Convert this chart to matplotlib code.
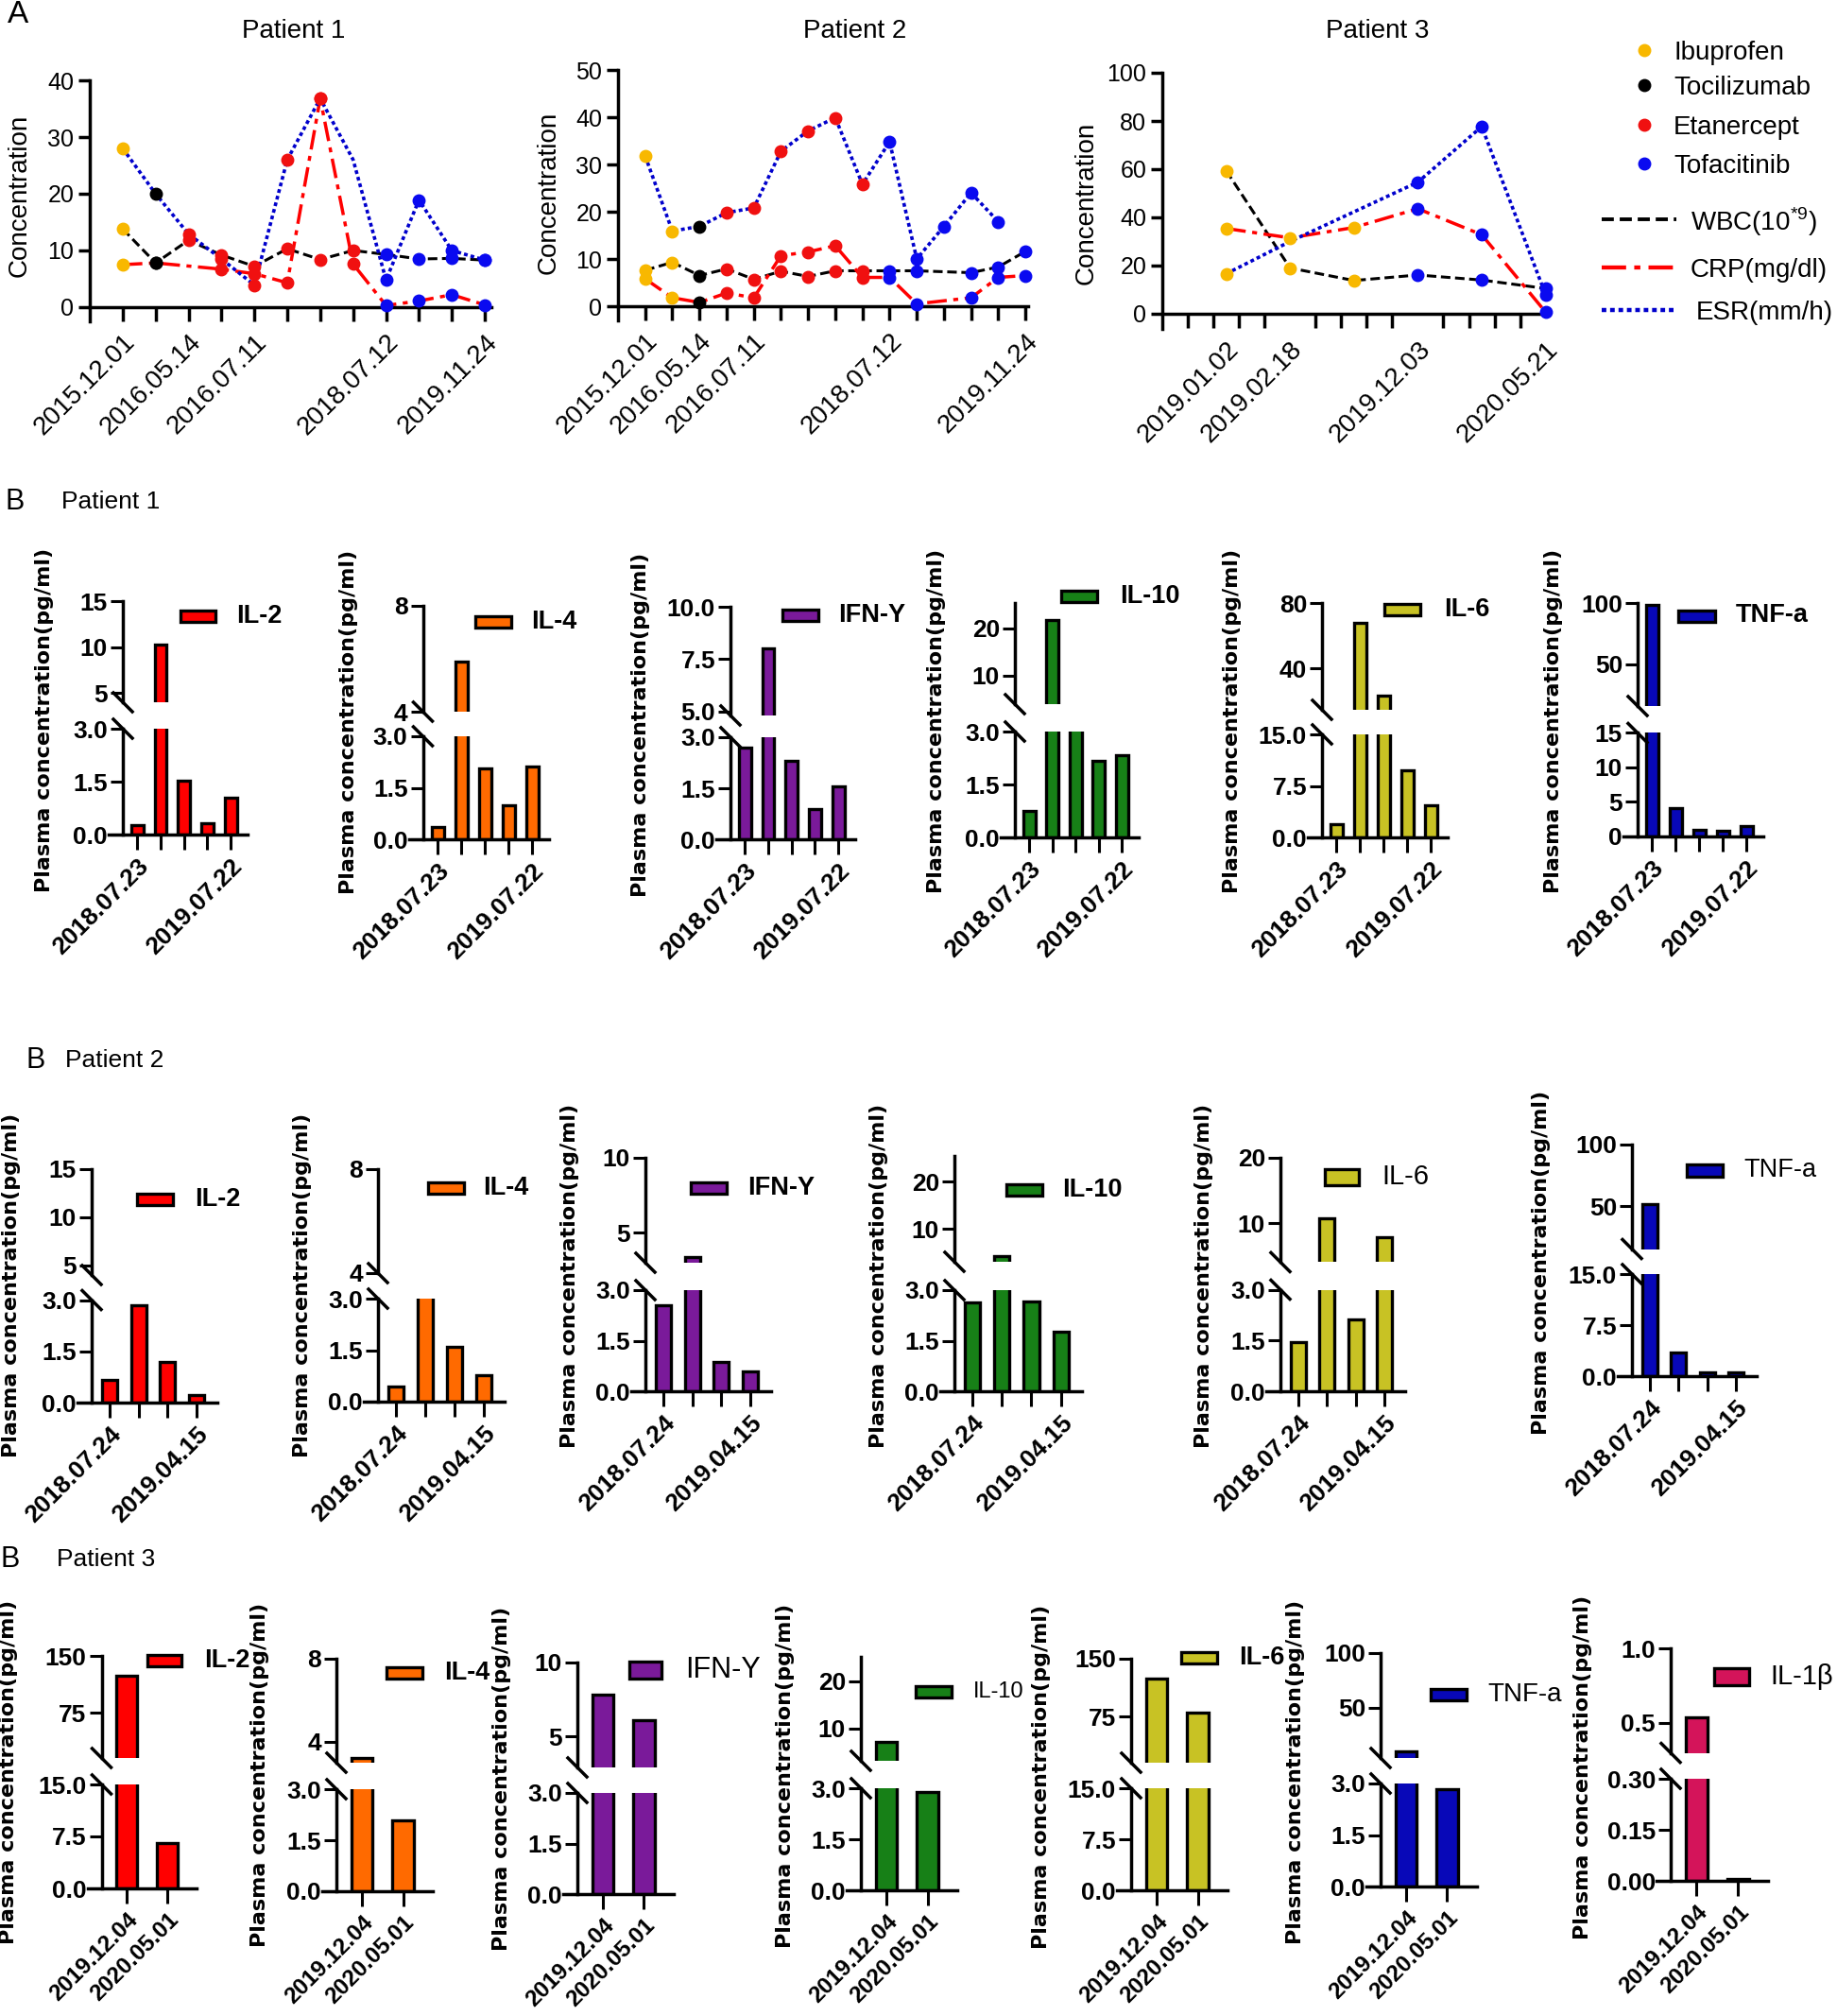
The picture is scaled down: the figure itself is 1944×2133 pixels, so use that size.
import matplotlib
matplotlib.use('Agg')
import matplotlib.pyplot as plt
from matplotlib.lines import Line2D
from matplotlib.patches import Rectangle

plt.rcParams['font.family'] = ['Liberation Sans', 'DejaVu Sans']
plt.rcParams['mathtext.fontset'] = 'custom'
plt.rcParams['mathtext.rm'] = 'Liberation Sans'

# ---------------------------------------------------------------- data (A)
p1_dates = ['2015.12.01', '', '2016.05.14', '', '2016.07.11', '', '', '', '2018.07.12', '', '', '2019.11.24']
p1_wbc = [13.8, 7.8, 11.8, 9.2, 7.2, 10.3, 8.4, 10.0, 9.3, 8.5, 8.6, 8.3]
p1_crp = [7.5, 7.8, None, 6.7, 5.9, 4.3, 36.8, 7.6, 0.3, 1.1, 2.2, 0.4]
p1_esr = [28.0, 20.0, 12.9, 8.5, 3.9, 26.0, 36.8, 26.0, 4.8, 18.9, 10.0, 8.3]
p1_drug = ['Ibuprofen', 'Tocilizumab'] + ['Etanercept'] * 6 + ['Tofacitinib'] * 4
p1_hidden = [('esr', 7)]

p2_dates = ['2015.12.01', '', '2016.05.14', '', '2016.07.11', '', '', '', '', '2018.07.12', '', '', '', '', '2019.11.24']
p2_wbc = [7.6, 9.3, 6.5, 7.9, 5.7, 7.4, 6.3, 7.5, 7.5, 7.5, 7.5, None, 7.1, 8.3, 11.6]
p2_crp = [5.8, 1.8, 0.8, 2.8, 1.8, 10.7, 11.5, 12.8, 6.1, 6.1, 0.5, None, 1.8, 6.1, 6.5]
p2_esr = [31.8, 15.9, 16.9, 19.8, 20.8, 32.8, 37.1, 39.9, 25.8, 34.8, 10.0, 16.9, 24.0, 17.9, None]
p2_drug = ['Ibuprofen', 'Ibuprofen', 'Tocilizumab'] + ['Etanercept'] * 6 + ['Tofacitinib'] * 6
p2_hidden = []

p3_pos = [2.5, 5, 7.5, 10, 12.5, 15]
p3_dates = ['2019.01.02', '2019.02.18', '', '2019.12.03', '', '2020.05.21']
p3_wbc = [59.4, 19.0, 13.8, 16.1, 14.0, 10.5]
p3_crp = [35.4, 31.5, 35.8, 43.6, 32.8, 0.7]
p3_esr = [16.6, 30.0, None, 54.6, 77.7, 7.9]
p3_drug = ['Ibuprofen'] * 3 + ['Tofacitinib'] * 3
p3_hidden = [('esr', 1)]

DRUGS = ['Ibuprofen', 'Tocilizumab', 'Etanercept', 'Tofacitinib']
DRUG_COLORS = {'Ibuprofen': '#F8B800', 'Tocilizumab': '#000000',
               'Etanercept': '#F01010', 'Tofacitinib': '#0A0AF0'}
LINE_NAMES = ['WBC(10$^{*9}$)', 'CRP(mg/dl)', 'ESR(mm/h)']

# ---------------------------------------------------------------- data (B)
p1_dates_b = ['2018.07.23', '', '', '', '2019.07.22']
p1_il2 = [0.26, 10.25, 1.52, 0.33, 1.04]
p1_il4 = [0.37, 5.9, 2.07, 0.98, 2.12]
p1_ifn = [2.7, 8.0, 2.31, 0.88, 1.55]
p1_il10 = [0.75, 21.8, 3.5, 2.17, 2.33]
p1_il6 = [1.9, 67.9, 23.2, 9.8, 4.7]
p1_tnf = [98.4, 4.1, 0.95, 0.8, 1.5]

p2_dates_b = ['2018.07.24', '', '', '2019.04.15']
p2_il2 = [0.67, 2.86, 1.19, 0.22]
p2_il4 = [0.44, 3.5, 1.61, 0.78]
p2_ifn = [2.56, 3.4, 0.87, 0.58]
p2_il10 = [2.63, 4.3, 2.65, 1.77]
p2_il6 = [1.46, 10.75, 2.13, 7.8]
p2_tnf = [51.3, 3.5, 0.5, 0.6]

p3_dates_b = ['2019.12.04', '2020.05.01']
p3_il2 = [124.0, 6.6]
p3_il4 = [3.25, 2.09]
p3_ifn = [7.85, 6.1]
p3_il10 = [7.3, 2.9]
p3_il6 = [124.2, 80.3]
p3_tnf = [9.9, 2.84]
p3_il1b = [0.54, 0.006]

CYT_COLORS = {'IL-2': '#FF0000', 'IL-4': '#FF6A00', 'IFN-Y': '#7A1A9A', 'IL-10': '#178017',
              'IL-6': '#C8C224', 'TNF-a': '#0808B8', 'IL-1β': '#D4145A'}

# ---------------------------------------------------------------- figure
W, H = 1944, 2133
fig = plt.figure(figsize=(W / 100, H / 100), dpi=100)


def fx(x):
    return x / W


def fy(y):
    return 1 - y / H


def px_axes(left, top, right, bottom):
    return fig.add_axes([fx(left), fy(bottom), (right - left) / W, (bottom - top) / H])


# ---------------------------------------------------------------- panel A
A_LAYOUT = [
    dict(left=95, right=520, top=85, zero=325, ext=15, xlim=(-1, 11.2), ymax=40, ystep=10,
         title='Patient 1', tx=311, lx=21, ly=207),
    dict(left=654, right=1088, top=74, zero=324, ext=15, xlim=(-1, 14.1), ymax=50, ystep=10,
         title='Patient 2', tx=905, lx=581, ly=204),
    dict(left=1230, right=1637, top=77, zero=332, ext=16, xlim=(0, 15.05), ymax=100, ystep=20,
         title='Patient 3', tx=1458, lx=1150, ly=215),
]

LINE_STYLES = {'wbc': ('black', (3.3, 1.6), 2.2),
               'crp': ('#FF0000', (6, 2, 1.5, 2), 2.5),
               'esr': ('#0000CC', (1.1, 0.9), 2.6)}


def line_panel(L, xs, dates, minor, wbc, crp, esr, drugs, hidden):
    ax = px_axes(L['left'], L['top'], L['right'], L['zero'] + L['ext'])
    ax.set_facecolor('none')
    ymin = -L['ext'] * L['ymax'] / (L['zero'] - L['top'])
    ax.set_ylim(ymin, L['ymax'])
    ax.set_xlim(*L['xlim'])
    for s in ('top', 'right'):
        ax.spines[s].set_visible(False)
    ax.spines['bottom'].set_position(('data', 0))
    for s in ('left', 'bottom'):
        ax.spines[s].set_linewidth(2.5)
    yt = list(range(0, L['ymax'] + 1, L['ystep']))
    ax.set_yticks(yt)
    ax.set_yticklabels([str(v) for v in yt], fontsize=18)
    labeled = [(x, d) for x, d in zip(xs, dates) if d]
    if minor is None:
        ax.set_xticks(xs)
        ax.set_xticklabels(dates, rotation=45, ha='right', va='top', rotation_mode='anchor', fontsize=20)
        ax.tick_params(axis='x', direction='out', length=11, width=2.5, pad=6)
    else:
        ax.set_xticks([p[0] for p in labeled])
        ax.set_xticklabels([p[1] for p in labeled], rotation=45, ha='right', va='top',
                           rotation_mode='anchor', fontsize=20)
        ax.set_xticks(minor, minor=True)
        ax.tick_params(axis='x', which='major', length=0, pad=18)
        ax.tick_params(axis='x', which='minor', direction='out', length=11, width=2.5)
    ax.tick_params(axis='y', direction='out', length=9, width=2.5, pad=3)
    series = {'wbc': wbc, 'crp': crp, 'esr': esr}
    for key, vals in series.items():
        col, dash, lw = LINE_STYLES[key]
        pts = [(x, v) for x, v in zip(xs, vals) if v is not None]
        ax.plot([p[0] for p in pts], [p[1] for p in pts], color=col, lw=lw, dashes=dash,
                zorder=2, clip_on=False)
    for key, vals in series.items():
        for i, (x, v) in enumerate(zip(xs, vals)):
            if v is None or (key, i) in hidden:
                continue
            ax.plot(x, v, 'o', ms=9, color=DRUG_COLORS[drugs[i]], zorder=3, clip_on=False)
    fig.text(fx(L['tx']), fy(33), L['title'], ha='center', va='center', fontsize=20)
    fig.text(fx(L['lx']), fy(L['ly']), 'Concentration', rotation=90, ha='center', va='center', fontsize=20)


line_panel(A_LAYOUT[0], list(range(len(p1_wbc))), p1_dates, None, p1_wbc, p1_crp, p1_esr, p1_drug, p1_hidden)
line_panel(A_LAYOUT[1], list(range(len(p2_wbc))), p2_dates, None, p2_wbc, p2_crp, p2_esr, p2_drug, p2_hidden)
line_panel(A_LAYOUT[2], p3_pos, p3_dates, list(range(1, 16)), p3_wbc, p3_crp, p3_esr, p3_drug, p3_hidden)

fig.text(fx(19), fy(16), 'A', ha='center', va='center', fontsize=24)

# legend A
for name, y in zip(DRUGS, [53, 90, 132, 173]):
    fig.add_artist(Line2D([fx(1740)], [fy(y)], marker='o', ms=9, color=DRUG_COLORS[name],
                          transform=fig.transFigure))
    fig.text(fx(1771), fy(y + 3), name, ha='left', va='center', fontsize=20)
for key, name, y, tx in zip(['wbc', 'crp', 'esr'], LINE_NAMES, [232, 283, 328], [1789, 1789, 1795]):
    col, dash, lw = LINE_STYLES[key]
    fig.add_artist(Line2D([fx(1695), fx(1774)], [fy(y), fy(y)], color=col, lw=lw + 0.6, dashes=dash,
                          transform=fig.transFigure))
    fig.text(fx(tx), fy(y + 3), name, ha='left', va='center', fontsize=20)


# ---------------------------------------------------------------- panel B
def lay(l, r, ut, ub, ulim, utk, utl, lt, lb, llim, ltk, ltl, leg, yl):
    return dict(l=l, r=r, ut=ut, ub=ub, ulim=ulim, utk=utk, utl=utl, lt=lt, lb=lb,
                llim=llim, ltk=ltk, ltl=ltl, leg=leg, yl=yl)


T3 = ([0, 1.5, 3], ['0.0', '1.5', '3.0'])
T15 = ([0, 7.5, 15], ['0.0', '7.5', '15.0'])

# legend tuple: (patch x0, patch x1, centre y, patch height, text x, bold, font size)
ROW1 = [
    lay(130, 262, 636, 743, (4, 15), [5, 10, 15], ['5', '10', '15'], 771, 883, (0, 3), *T3,
        (191, 228, 652, 12, 250, True, 19.5), (47, 762)),
    lay(447.5, 581, 641, 753, (4, 8), [4, 8], ['4', '8'], 779, 888, (0, 3), *T3,
        (503, 541, 658, 12, 562, True, 19.5), (369, 764)),
    lay(773, 905, 642, 757, (4.8, 10), [5, 7.5, 10], ['5.0', '7.5', '10.0'], 780, 888, (0, 3), *T3,
        (828, 866, 651, 12, 887, True, 19.5), (678, 767)),
    lay(1074, 1205, 638, 745, (4, 25.4), [10, 20], ['10', '20'], 774, 886, (0, 3), *T3,
        (1123, 1161, 631, 12, 1185, True, 19.5), (991, 763)),
    lay(1399, 1532, 638, 751, (14.5, 80), [40, 80], ['40', '80'], 777, 886, (0, 15), *T15,
        (1465, 1503, 645, 12, 1528, True, 19.5), (1304, 763)),
    lay(1733, 1866, 638, 747, (16, 100), [50, 100], ['50', '100'], 775.5, 884.6, (0, 15),
        [0, 5, 10, 15], ['0', '5', '10', '15'],
        (1776, 1815, 651.5, 12, 1837, True, 19.5), (1644, 763)),
]
ROW2 = [
    lay(97, 230, 1237, 1349, (4, 15), [5, 10, 15], ['5', '10', '15'], 1375.5, 1484, (0, 3), *T3,
        (145, 182.5, 1269, 12, 206, True, 19.5), (12.5, 1360)),
    lay(400, 534, 1237, 1347, (4, 8), [4, 8], ['4', '8'], 1374, 1483, (0, 3), *T3,
        (453, 491, 1257, 12, 511, True, 19.5), (320, 1360)),
    lay(683, 816, 1225, 1336, (3, 10), [5, 10], ['5', '10'], 1365, 1472, (0, 3), *T3,
        (731, 769, 1257, 12, 791, True, 19.5), (603, 1350)),
    lay(1010, 1145, 1223, 1335, (3, 25.4), [10, 20], ['10', '20'], 1365, 1472, (0, 3), *T3,
        (1065, 1103, 1259, 12, 1124, True, 19.5), (930, 1350)),
    lay(1355, 1487, 1225, 1335.4, (4, 20), [10, 20], ['10', '20'], 1364.5, 1472, (0, 3), *T3,
        (1402, 1438, 1245, 17, 1462, False, 21), (1274, 1350)),
    lay(1727, 1859, 1211, 1321.5, (15, 100), [50, 100], ['50', '100'], 1348, 1456, (0, 15), *T15,
        (1785, 1823, 1238, 13, 1845, False, 19.5), (1631, 1336)),
]
ROW3 = [
    lay(107.5, 208, 1752, 1860, (15, 150), [75, 150], ['75', '150'], 1888, 1998, (0, 15), *T15,
        (156, 192, 1757, 12, 216, True, 19.5), (9, 1875)),
    lay(356, 458, 1755, 1865, (3, 8), [4, 8], ['4', '8'], 1893, 2001, (0, 3), *T3,
        (409, 447, 1770, 12, 470, True, 19.5), (275, 1878)),
    lay(611, 712.5, 1759, 1870, (2.9, 10), [5, 10], ['5', '10'], 1897, 2004, (0, 3), *T3,
        (666, 700, 1767, 18, 725, False, 22), (531, 1882)),
    lay(911, 1013, 1753, 1863, (3.2, 25.2), [10, 20], ['10', '20'], 1892, 2000, (0, 3), *T3,
        (969, 1007, 1790, 12, 1030, False, 17), (831, 1879)),
    lay(1197, 1299, 1755, 1865, (15, 150), [75, 150], ['75', '150'], 1892, 2000, (0, 15), *T15,
        (1250, 1288, 1754, 12, 1311, True, 19.5), (1102, 1880)),
    lay(1461, 1562.5, 1749, 1860, (4, 100), [50, 100], ['50', '100'], 1887, 1996, (0, 3), *T3,
        (1513.5, 1552, 1793, 12, 1574, False, 20), (1371, 1875)),
    lay(1768, 1871, 1744, 1854.6, (0.3, 1.0), [0.5, 1.0], ['0.5', '1.0'], 1882, 1990, (0, 0.3),
        [0, 0.15, 0.3], ['0.00', '0.15', '0.30'],
        (1813.5, 1851, 1774, 18, 1873, False, 21), (1675, 1870)),
]


def bar_panel(L, name, values, dates, date_size):
    n = len(values)
    x_lo, x_hi = -0.62, n - 1 + 0.72
    spacing = (L['r'] - L['l']) / (x_hi - x_lo)
    xlim = (x_lo - 15 / spacing, x_hi)
    color = CYT_COLORS[name]
    ax_lo = px_axes(L['l'] - 15, L['lt'], L['r'], L['lb'])
    ax_up = px_axes(L['l'] - 15, L['ut'], L['r'], L['ub'])
    for ax, lim, ticks, labels in ((ax_lo, L['llim'], L['ltk'], L['ltl']),
                                   (ax_up, L['ulim'], L['utk'], L['utl'])):
        ax.set_facecolor('none')
        bars = ax.bar(range(n), values, width=0.52, color=color, edgecolor='black',
                      linewidth=2.4, zorder=2)
        for b, v in zip(bars, values):
            if v <= lim[0]:
                b.set_visible(False)
        ax.set_xlim(*xlim)
        ax.set_ylim(*lim)
        for s in ('top', 'right'):
            ax.spines[s].set_visible(False)
        ax.spines['left'].set_position(('data', x_lo))
        ax.spines['left'].set_linewidth(2.5)
        ax.set_yticks(ticks)
        ax.set_yticklabels(labels, fontsize=19, fontweight='bold')
        ax.tick_params(axis='y', direction='out', length=9.5, width=2.2, pad=2)
    ax_up.spines['bottom'].set_visible(False)
    ax_up.tick_params(axis='x', bottom=False, labelbottom=False)
    ax_lo.spines['bottom'].set_linewidth(2.5)
    ax_lo.set_xticks(range(n))
    ax_lo.set_xticklabels(dates, rotation=45, ha='right', va='top', rotation_mode='anchor',
                          fontsize=date_size, fontweight='bold')
    ax_lo.tick_params(axis='x', direction='out', length=11.5, width=2.2, pad=4)
    for yb in (L['ub'], L['lt']):
        fig.add_artist(Line2D([fx(L['l'] - 10), fx(L['l'] + 10)], [fy(yb - 10), fy(yb + 10)],
                              transform=fig.transFigure, color='black', lw=2.5))
    x0, x1, yc, hh, tx, bold, fs = L['leg']
    fig.add_artist(Rectangle((fx(x0), fy(yc + hh / 2)), (x1 - x0) / W, hh / H,
                             transform=fig.transFigure, facecolor=color, edgecolor='black', lw=2.4))
    fig.text(fx(tx), fy(yc), name, ha='left', va='center',
             fontsize=fs, fontweight='bold' if bold else 'normal')
    yx, yy = L['yl']
    fig.text(fx(yx), fy(yy), 'Plasma concentration(pg/ml)', rotation=90, ha='center', va='center',
             fontsize=16, fontweight='bold', family='DejaVu Sans')


rows = [
    (ROW1, p1_dates_b, 19, [('IL-2', p1_il2), ('IL-4', p1_il4), ('IFN-Y', p1_ifn),
                            ('IL-10', p1_il10), ('IL-6', p1_il6), ('TNF-a', p1_tnf)]),
    (ROW2, p2_dates_b, 19, [('IL-2', p2_il2), ('IL-4', p2_il4), ('IFN-Y', p2_ifn),
                            ('IL-10', p2_il10), ('IL-6', p2_il6), ('TNF-a', p2_tnf)]),
    (ROW3, p3_dates_b, 17.5, [('IL-2', p3_il2), ('IL-4', p3_il4), ('IFN-Y', p3_ifn), ('IL-10', p3_il10),
                              ('IL-6', p3_il6), ('TNF-a', p3_tnf), ('IL-1β', p3_il1b)]),
]
for layout, dates, dsize, panels in rows:
    for L, (name, vals) in zip(layout, panels):
        bar_panel(L, name, vals, dates, dsize)

for (bx, px, y, title) in [(16, 65, 531, 'Patient 1'), (38, 69, 1122, 'Patient 2'), (11, 60, 1650, 'Patient 3')]:
    fig.text(fx(bx), fy(y), 'B', ha='center', va='center', fontsize=22)
    fig.text(fx(px), fy(y), title, ha='left', va='center', fontsize=19)

fig.savefig('out.png', dpi=100)
